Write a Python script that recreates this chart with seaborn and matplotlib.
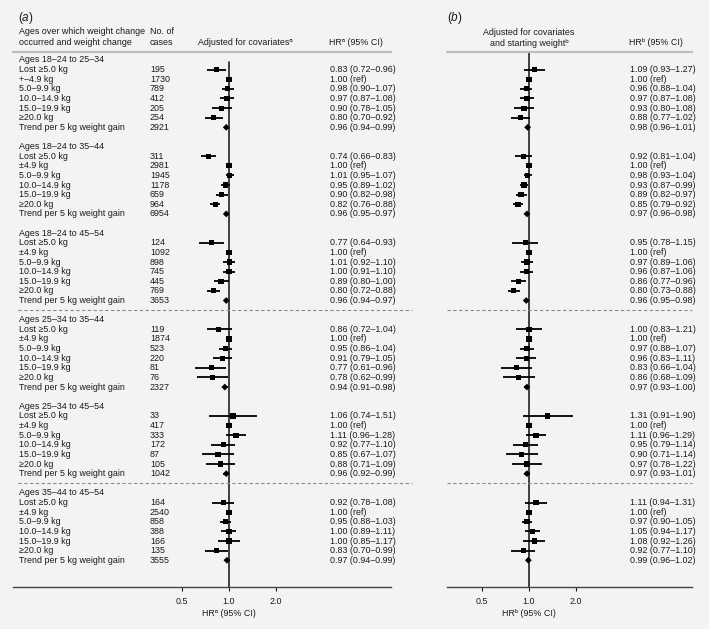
import numpy as np
import pandas as pd
import matplotlib
matplotlib.use('Agg')
import matplotlib.pyplot as plt
import matplotlib.transforms as mtransforms
from matplotlib.ticker import NullLocator
import seaborn as sns

groups = ['Ages 18–24 to 25–34', 'Ages 18–24 to 35–44', 'Ages 18–24 to 45–54',
          'Ages 25–34 to 35–44', 'Ages 25–34 to 45–54', 'Ages 35–44 to 45–54']
row_labels = ['Lost ≥5.0 kg', '±4.9 kg', '5.0–9.9 kg', '10.0–14.9 kg',
              '15.0–19.9 kg', '≥20.0 kg', 'Trend per 5 kg weight gain']
first_group_labels = ['Lost ≥5.0 kg', '+–4.9 kg', '5.0–9.9 kg', '10.0–14.9 kg',
                      '15.0–19.9 kg', '≥20.0 kg', 'Trend per 5 kg weight gain']

cases = [[195, 1730, 789, 412, 205, 254, 2921],
         [311, 2981, 1945, 1178, 659, 964, 6954],
         [124, 1092, 898, 745, 445, 769, 3653],
         [119, 1874, 523, 220, 81, 76, 2327],
         [33, 417, 333, 172, 87, 105, 1042],
         [164, 2540, 858, 388, 166, 135, 3555]]

# panel (a): adjusted for covariates
hr_a = [[0.83, 1.00, 0.98, 0.97, 0.90, 0.80, 0.96],
        [0.74, 1.00, 1.01, 0.95, 0.90, 0.82, 0.96],
        [0.77, 1.00, 1.01, 1.00, 0.89, 0.80, 0.96],
        [0.86, 1.00, 0.95, 0.91, 0.77, 0.78, 0.94],
        [1.06, 1.00, 1.11, 0.92, 0.85, 0.88, 0.96],
        [0.92, 1.00, 0.95, 1.00, 1.00, 0.83, 0.97]]
lo_a = [[0.72, None, 0.90, 0.87, 0.78, 0.70, 0.94],
        [0.66, None, 0.95, 0.89, 0.82, 0.76, 0.95],
        [0.64, None, 0.92, 0.91, 0.80, 0.72, 0.94],
        [0.72, None, 0.86, 0.79, 0.61, 0.62, 0.91],
        [0.74, None, 0.96, 0.77, 0.67, 0.71, 0.92],
        [0.78, None, 0.88, 0.89, 0.85, 0.70, 0.94]]
hi_a = [[0.96, None, 1.07, 1.08, 1.05, 0.92, 0.99],
        [0.83, None, 1.07, 1.02, 0.98, 0.88, 0.97],
        [0.93, None, 1.10, 1.10, 1.00, 0.88, 0.97],
        [1.04, None, 1.04, 1.05, 0.96, 0.99, 0.98],
        [1.51, None, 1.28, 1.10, 1.07, 1.09, 0.99],
        [1.08, None, 1.03, 1.11, 1.17, 0.99, 0.99]]

# panel (b): adjusted for covariates and starting weight
hr_b = [[1.09, 1.00, 0.96, 0.97, 0.93, 0.88, 0.98],
        [0.92, 1.00, 0.98, 0.93, 0.89, 0.85, 0.97],
        [0.95, 1.00, 0.97, 0.96, 0.86, 0.80, 0.96],
        [1.00, 1.00, 0.97, 0.96, 0.83, 0.86, 0.97],
        [1.31, 1.00, 1.11, 0.95, 0.90, 0.97, 0.97],
        [1.11, 1.00, 0.97, 1.05, 1.08, 0.92, 0.99]]
lo_b = [[0.93, None, 0.88, 0.87, 0.80, 0.77, 0.96],
        [0.81, None, 0.93, 0.87, 0.82, 0.79, 0.96],
        [0.78, None, 0.89, 0.87, 0.77, 0.73, 0.95],
        [0.83, None, 0.88, 0.83, 0.66, 0.68, 0.93],
        [0.91, None, 0.96, 0.79, 0.71, 0.78, 0.93],
        [0.94, None, 0.90, 0.94, 0.92, 0.77, 0.96]]
hi_b = [[1.27, None, 1.04, 1.08, 1.08, 1.02, 1.01],
        [1.04, None, 1.04, 0.99, 0.97, 0.92, 0.98],
        [1.15, None, 1.06, 1.06, 0.96, 0.88, 0.98],
        [1.21, None, 1.07, 1.11, 1.04, 1.09, 1.00],
        [1.90, None, 1.29, 1.14, 1.14, 1.22, 1.01],
        [1.31, None, 1.05, 1.17, 1.26, 1.10, 1.02]]

W, H = 709, 629
BG = '#f2f3f3'
TXT = '#1a1a1a'
FS = 6.4

sns.set_theme(style='white', rc={'figure.facecolor': BG, 'axes.facecolor': BG,
                                 'savefig.facecolor': BG})
plt.rcParams['font.family'] = ['Liberation Sans', 'DejaVu Sans']
plt.rcParams['mathtext.fontset'] = 'custom'
plt.rcParams['mathtext.rm'] = 'Liberation Sans'
plt.rcParams['mathtext.it'] = 'Liberation Sans:italic'

# one long table, row position 9 per group (header + 7 rows + blank)
records = []
for k in range(len(groups)):
    for j in range(7):
        kind = 'ref' if j == 1 else ('trend' if j == 6 else 'est')
        records.append({'group': k, 'item': j, 'row': 9 * k + 1 + j, 'kind': kind,
                        'cases': cases[k][j],
                        'hr_a': hr_a[k][j], 'lo_a': lo_a[k][j], 'hi_a': hi_a[k][j],
                        'hr_b': hr_b[k][j], 'lo_b': lo_b[k][j], 'hi_b': hi_b[k][j]})
df = pd.DataFrame(records)

fig = plt.figure(figsize=(W / 100, H / 100), dpi=100)

y0px, rowpx = 60.0, 9.62
top_px, bot_px = 52.0, 587.3
ylim = ((bot_px - y0px) / rowpx, (top_px - y0px) / rowpx)


def make_axes(left_px, right_px, one_px):
    ax = fig.add_axes([left_px / W, (H - bot_px) / H,
                       (right_px - left_px) / W, (bot_px - top_px) / H])
    ax.set_xscale('log', base=2)
    ax.set_xlim(2 ** ((left_px - one_px) / 47), 2 ** ((right_px - one_px) / 47))
    ax.set_ylim(*ylim)
    ax.set_xticks([0.5, 1, 2])
    ax.set_xticklabels(['0.5', '1.0', '2.0'])
    ax.xaxis.set_minor_locator(NullLocator())
    ax.set_yticks([])
    ax.tick_params(axis='x', direction='out', length=3, width=0.8, pad=4,
                   labelsize=FS, colors=TXT, bottom=True)
    for s in ['left', 'right']:
        ax.spines[s].set_visible(False)
    ax.spines['top'].set_color('#bdbdbd')
    ax.spines['top'].set_linewidth(1.5)
    ax.spines['bottom'].set_color('#444444')
    ax.spines['bottom'].set_linewidth(1.0)
    return ax


def draw_forest(ax, col, vstart):
    ax.plot([1, 1], [vstart, ylim[0]], color='#222222', lw=1.2, zorder=1)
    ci = df.dropna(subset=['lo_' + col])
    ax.hlines(ci['row'], ci['lo_' + col], ci['hi_' + col], color='black', lw=1.3, zorder=2)
    sns.scatterplot(data=df, x='hr_' + col, y='row', style='kind', size='kind',
                    markers={'est': 's', 'ref': 's', 'trend': 'D'},
                    sizes={'est': 14, 'ref': 14, 'trend': 12},
                    color='black', linewidth=0, legend=False, ax=ax, zorder=3)
    ax.set_xlabel('')
    ax.set_ylabel('')
    ax.set_ylim(*ylim)


def ftext(xpx, ypx, s, **kw):
    kw.setdefault('fontsize', FS)
    kw.setdefault('color', TXT)
    kw.setdefault('va', 'center')
    fig.text(xpx / W, 1 - ypx / H, s, **kw)


ax_a = make_axes(13, 391, 229)
ax_b = make_axes(447, 692, 529)
draw_forest(ax_a, 'a', 0.25)
draw_forest(ax_b, 'b', -0.7)

tr_a = mtransforms.blended_transform_factory(fig.transFigure, ax_a.transData)

for k, g in enumerate(groups):
    fig.text(19 / W, 9 * k, g, transform=tr_a, fontsize=FS, color=TXT, va='center')
    labels = first_group_labels if k == 0 else row_labels
    sub = df[df['group'] == k]
    for _, r in sub.iterrows():
        fig.text(19 / W, r['row'], labels[r['item']], transform=tr_a,
                 fontsize=FS, color=TXT, va='center')
        fig.text(150 / W, r['row'], str(r['cases']), transform=tr_a,
                 fontsize=FS, color=TXT, va='center')
        for col, xpx in [('a', 330), ('b', 630)]:
            if r['kind'] == 'ref':
                s = f"{r['hr_' + col]:.2f} (ref)"
            else:
                s = f"{r['hr_' + col]:.2f} ({r['lo_' + col]:.2f}–{r['hi_' + col]:.2f})"
            fig.text(xpx / W, r['row'], s, transform=tr_a, fontsize=FS,
                     color=TXT, va='center')

# dashed separators between starting age bands
for row in [26, 44]:
    for x0, x1 in [(18, 412), (447, 692)]:
        fig.add_artist(plt.Line2D([x0 / W, x1 / W], [row, row], transform=tr_a,
                                  color='#8c8c8c', lw=0.8, ls=(0, (3, 2.2))))

# headers
ftext(18, 18, r'($\mathit{a}$)', fontsize=8.5)
ftext(447, 18, r'($\mathit{b}$)', fontsize=8.5)
ftext(19, 32, 'Ages over which weight change')
ftext(19, 42.3, 'occurred and weight change')
ftext(150, 32, 'No. of')
ftext(150, 42.3, 'cases')
ftext(198, 42.3, 'Adjusted for covariatesᵃ')
ftext(329, 42.3, 'HRᵃ (95% CI)')
ftext(529, 32.5, 'Adjusted for covariates', ha='center')
ftext(529, 43.3, 'and starting weightᵇ', ha='center')
ftext(629, 42.3, 'HRᵇ (95% CI)')
ftext(229, 613, 'HRᵃ (95% CI)', ha='center')
ftext(529, 613, 'HRᵇ (95% CI)', ha='center')

fig.savefig('out.png', dpi=100)
